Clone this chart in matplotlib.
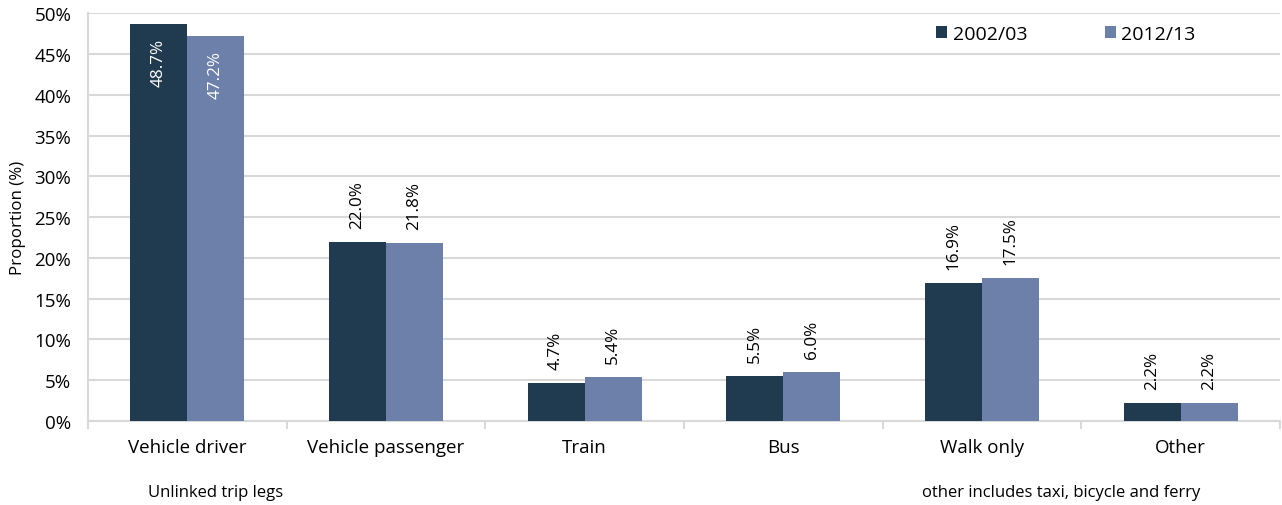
import matplotlib.pyplot as plt
import numpy as np

categories = ['Vehicle driver', 'Vehicle passenger', 'Train', 'Bus', 'Walk only', 'Other']
y2002 = [48.7, 22.0, 4.7, 5.5, 16.9, 2.2]
y2012 = [47.2, 21.8, 5.4, 6.0, 17.5, 2.2]
series_names = ['2002/03', '2012/13']

plt.rcParams['font.family'] = ['Open Sans', 'DejaVu Sans']

dark = '#203a4f'
light = '#6c80aa'
grid = '#d9d9d9'

fig = plt.figure(figsize=(12.82, 5.06), dpi=100)
ax = fig.add_axes([0.0686, 0.166, 0.9298, 0.806])

x = np.arange(len(categories))
w = 0.287
b1 = ax.bar(x - w / 2, y2002, w, color=dark, label=series_names[0], zorder=3)
b2 = ax.bar(x + w / 2, y2012, w, color=light, label=series_names[1], zorder=3)

# value labels, rotated
for bars, vals in [(b1, y2002), (b2, y2012)]:
    for rect, v in zip(bars, vals):
        cx = rect.get_x() + rect.get_width() / 2
        txt = f'{v:.1f}%'
        if v > 40:
            ax.annotate(txt, (cx, v), xytext=(0, -10), textcoords='offset points',
                        rotation=90, ha='center', va='top', color='white', fontsize=12.3)
        else:
            ax.annotate(txt, (cx, v), xytext=(0, 10), textcoords='offset points',
                        rotation=90, ha='center', va='bottom', color='black', fontsize=12.3)

ax.set_xlim(-0.5, len(categories) - 0.5)
ax.set_ylim(0, 50)
ax.set_yticks(np.arange(0, 51, 5))
ax.set_yticklabels([f'{t}%' for t in range(0, 51, 5)], fontsize=13.5)
ax.yaxis.grid(True, color=grid, linewidth=1.5, zorder=0)
ax.tick_params(axis='y', length=0, pad=12)

ax.set_xticks(np.arange(-0.5, len(categories), 1))
ax.set_xticklabels([])
ax.set_xticks(x, minor=True)
ax.set_xticklabels(categories, minor=True, fontsize=13.5)
ax.tick_params(axis='x', which='major', length=6, color=grid, width=1.5)
ax.tick_params(axis='x', which='minor', length=0, pad=12)

for s in ['top', 'right']:
    ax.spines[s].set_visible(False)
ax.spines['left'].set_color(grid)
ax.spines['bottom'].set_color(grid)
ax.spines['left'].set_linewidth(1.5)
ax.spines['bottom'].set_linewidth(1.5)

ax.set_ylabel('Proportion (%)', fontsize=12.2, labelpad=6)

ax.legend(loc='upper right', bbox_to_anchor=(0.944, 1.015), ncol=2, frameon=False,
          fontsize=14, handlelength=0.55, handleheight=0.55, handletextpad=0.3,
          columnspacing=4)

fig.text(148 / 1282, 1 - 493 / 506, 'Unlinked trip legs', fontsize=12, va='center')
fig.text(922 / 1282, 1 - 493 / 506, 'other includes taxi, bicycle and ferry', fontsize=12, va='center')

fig.savefig('out.png', dpi=100)
